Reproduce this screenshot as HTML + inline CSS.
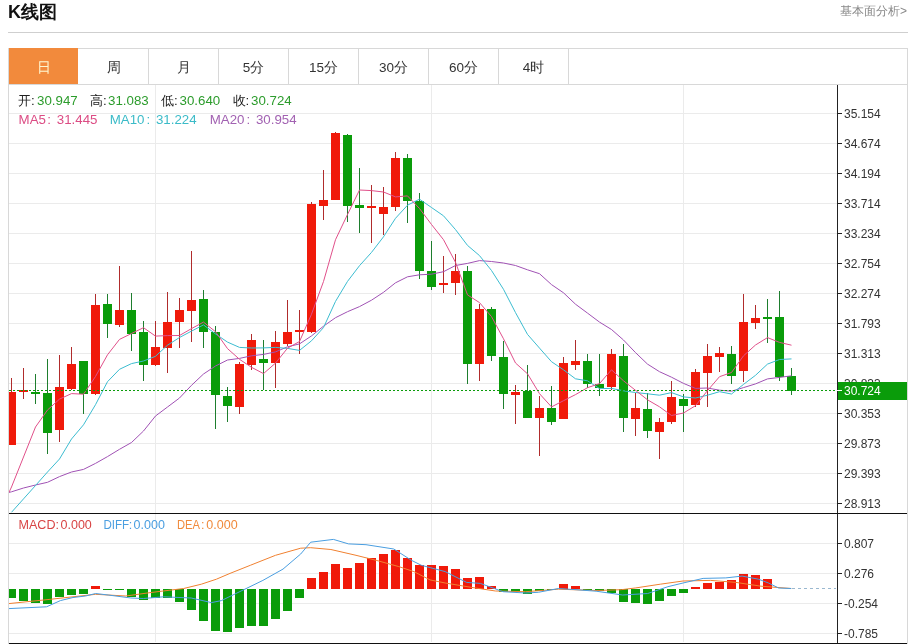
<!DOCTYPE html>
<html><head><meta charset="utf-8"><style>
html,body{margin:0;padding:0;background:#fff;width:914px;height:644px;overflow:hidden}
svg{display:block;will-change:transform;font-family:"Liberation Sans",sans-serif}
.ax{font-size:12px;fill:#333}
.tab{font-size:13.5px}
.lg{font-size:13.3px}
.lg2{font-size:12.5px}
.title{font-size:18px;font-weight:bold;fill:#111}
.link{font-size:12px;fill:#888}
</style></head><body>
<svg width="914" height="644" viewBox="0 0 914 644">
<defs><clipPath id="cp"><rect x="9" y="85" width="828" height="428"/></clipPath>
<clipPath id="cp2"><rect x="9" y="514" width="828" height="129"/></clipPath></defs>
<line x1="9" y1="113.5" x2="837" y2="113.5" stroke="#ebebeb"/>
<line x1="9" y1="143.5" x2="837" y2="143.5" stroke="#ebebeb"/>
<line x1="9" y1="173.5" x2="837" y2="173.5" stroke="#ebebeb"/>
<line x1="9" y1="203.5" x2="837" y2="203.5" stroke="#ebebeb"/>
<line x1="9" y1="233.5" x2="837" y2="233.5" stroke="#ebebeb"/>
<line x1="9" y1="263.5" x2="837" y2="263.5" stroke="#ebebeb"/>
<line x1="9" y1="293.5" x2="837" y2="293.5" stroke="#ebebeb"/>
<line x1="9" y1="323.5" x2="837" y2="323.5" stroke="#ebebeb"/>
<line x1="9" y1="353.5" x2="837" y2="353.5" stroke="#ebebeb"/>
<line x1="9" y1="383.5" x2="837" y2="383.5" stroke="#ebebeb"/>
<line x1="9" y1="413.5" x2="837" y2="413.5" stroke="#ebebeb"/>
<line x1="9" y1="443.5" x2="837" y2="443.5" stroke="#ebebeb"/>
<line x1="9" y1="473.5" x2="837" y2="473.5" stroke="#ebebeb"/>
<line x1="9" y1="503.5" x2="837" y2="503.5" stroke="#ebebeb"/>
<line x1="9" y1="543.5" x2="837" y2="543.5" stroke="#ebebeb"/>
<line x1="9" y1="573.5" x2="837" y2="573.5" stroke="#ebebeb"/>
<line x1="9" y1="603.5" x2="837" y2="603.5" stroke="#ebebeb"/>
<line x1="9" y1="633.5" x2="837" y2="633.5" stroke="#ebebeb"/>
<line x1="155.5" y1="85" x2="155.5" y2="642" stroke="#ebebeb"/>
<line x1="431.5" y1="85" x2="431.5" y2="642" stroke="#ebebeb"/>
<line x1="683.5" y1="85" x2="683.5" y2="642" stroke="#ebebeb"/>
<g clip-path="url(#cp)">
<rect x="11" y="378" width="1" height="67" fill="#b02c2c"/>
<rect x="7" y="392" width="9" height="53" fill="#f01a0a"/>
<rect x="23" y="368" width="1" height="31" fill="#b02c2c"/>
<rect x="19" y="390" width="9" height="2" fill="#f01a0a"/>
<rect x="35" y="374" width="1" height="30" fill="#1e7e2e"/>
<rect x="31" y="392" width="9" height="2" fill="#0a9c0a"/>
<rect x="47" y="359" width="1" height="95" fill="#1e7e2e"/>
<rect x="43" y="393" width="9" height="40" fill="#0a9c0a"/>
<rect x="59" y="355" width="1" height="87" fill="#b02c2c"/>
<rect x="55" y="387" width="9" height="43" fill="#f01a0a"/>
<rect x="71" y="347" width="1" height="43" fill="#b02c2c"/>
<rect x="67" y="364" width="9" height="25" fill="#f01a0a"/>
<rect x="83" y="361" width="1" height="53" fill="#1e7e2e"/>
<rect x="79" y="361" width="9" height="33" fill="#0a9c0a"/>
<rect x="95" y="294" width="1" height="101" fill="#b02c2c"/>
<rect x="91" y="305" width="9" height="89" fill="#f01a0a"/>
<rect x="107" y="294" width="1" height="44" fill="#1e7e2e"/>
<rect x="103" y="304" width="9" height="20" fill="#0a9c0a"/>
<rect x="119" y="266" width="1" height="61" fill="#b02c2c"/>
<rect x="115" y="310" width="9" height="15" fill="#f01a0a"/>
<rect x="131" y="293" width="1" height="58" fill="#1e7e2e"/>
<rect x="127" y="310" width="9" height="24" fill="#0a9c0a"/>
<rect x="143" y="321" width="1" height="60" fill="#1e7e2e"/>
<rect x="139" y="332" width="9" height="33" fill="#0a9c0a"/>
<rect x="155" y="321" width="1" height="45" fill="#b02c2c"/>
<rect x="151" y="347" width="9" height="18" fill="#f01a0a"/>
<rect x="167" y="292" width="1" height="81" fill="#b02c2c"/>
<rect x="163" y="322" width="9" height="26" fill="#f01a0a"/>
<rect x="179" y="298" width="1" height="50" fill="#b02c2c"/>
<rect x="175" y="310" width="9" height="12" fill="#f01a0a"/>
<rect x="191" y="251" width="1" height="91" fill="#b02c2c"/>
<rect x="187" y="300" width="9" height="11" fill="#f01a0a"/>
<rect x="203" y="290" width="1" height="58" fill="#1e7e2e"/>
<rect x="199" y="299" width="9" height="33" fill="#0a9c0a"/>
<rect x="215" y="326" width="1" height="103" fill="#1e7e2e"/>
<rect x="211" y="332" width="9" height="63" fill="#0a9c0a"/>
<rect x="227" y="387" width="1" height="35" fill="#1e7e2e"/>
<rect x="223" y="396" width="9" height="10" fill="#0a9c0a"/>
<rect x="239" y="362" width="1" height="52" fill="#b02c2c"/>
<rect x="235" y="364" width="9" height="43" fill="#f01a0a"/>
<rect x="251" y="334" width="1" height="36" fill="#b02c2c"/>
<rect x="247" y="340" width="9" height="25" fill="#f01a0a"/>
<rect x="263" y="340" width="1" height="50" fill="#1e7e2e"/>
<rect x="259" y="359" width="9" height="4" fill="#0a9c0a"/>
<rect x="275" y="331" width="1" height="57" fill="#b02c2c"/>
<rect x="271" y="342" width="9" height="21" fill="#f01a0a"/>
<rect x="287" y="300" width="1" height="46" fill="#b02c2c"/>
<rect x="283" y="332" width="9" height="12" fill="#f01a0a"/>
<rect x="299" y="310" width="1" height="44" fill="#b02c2c"/>
<rect x="295" y="330" width="9" height="2" fill="#f01a0a"/>
<rect x="311" y="202" width="1" height="131" fill="#b02c2c"/>
<rect x="307" y="204" width="9" height="128" fill="#f01a0a"/>
<rect x="323" y="170" width="1" height="50" fill="#b02c2c"/>
<rect x="319" y="200" width="9" height="6" fill="#f01a0a"/>
<rect x="335" y="132" width="1" height="68" fill="#b02c2c"/>
<rect x="331" y="133" width="9" height="67" fill="#f01a0a"/>
<rect x="347" y="134" width="1" height="88" fill="#1e7e2e"/>
<rect x="343" y="135" width="9" height="71" fill="#0a9c0a"/>
<rect x="359" y="168" width="1" height="65" fill="#1e7e2e"/>
<rect x="355" y="205" width="9" height="3" fill="#0a9c0a"/>
<rect x="371" y="185" width="1" height="58" fill="#b02c2c"/>
<rect x="367" y="206" width="9" height="2" fill="#f01a0a"/>
<rect x="383" y="187" width="1" height="48" fill="#b02c2c"/>
<rect x="379" y="207" width="9" height="7" fill="#f01a0a"/>
<rect x="395" y="152" width="1" height="59" fill="#b02c2c"/>
<rect x="391" y="158" width="9" height="49" fill="#f01a0a"/>
<rect x="407" y="154" width="1" height="69" fill="#1e7e2e"/>
<rect x="403" y="158" width="9" height="43" fill="#0a9c0a"/>
<rect x="419" y="193" width="1" height="86" fill="#1e7e2e"/>
<rect x="415" y="201" width="9" height="70" fill="#0a9c0a"/>
<rect x="431" y="241" width="1" height="49" fill="#1e7e2e"/>
<rect x="427" y="271" width="9" height="16" fill="#0a9c0a"/>
<rect x="443" y="256" width="1" height="37" fill="#b02c2c"/>
<rect x="439" y="283" width="9" height="2" fill="#f01a0a"/>
<rect x="455" y="254" width="1" height="41" fill="#b02c2c"/>
<rect x="451" y="271" width="9" height="12" fill="#f01a0a"/>
<rect x="467" y="266" width="1" height="118" fill="#1e7e2e"/>
<rect x="463" y="271" width="9" height="93" fill="#0a9c0a"/>
<rect x="479" y="304" width="1" height="77" fill="#b02c2c"/>
<rect x="475" y="309" width="9" height="55" fill="#f01a0a"/>
<rect x="491" y="307" width="1" height="54" fill="#1e7e2e"/>
<rect x="487" y="309" width="9" height="47" fill="#0a9c0a"/>
<rect x="503" y="341" width="1" height="68" fill="#1e7e2e"/>
<rect x="499" y="357" width="9" height="37" fill="#0a9c0a"/>
<rect x="515" y="385" width="1" height="39" fill="#b02c2c"/>
<rect x="511" y="392" width="9" height="3" fill="#f01a0a"/>
<rect x="527" y="365" width="1" height="53" fill="#1e7e2e"/>
<rect x="523" y="391" width="9" height="27" fill="#0a9c0a"/>
<rect x="539" y="396" width="1" height="60" fill="#b02c2c"/>
<rect x="535" y="408" width="9" height="10" fill="#f01a0a"/>
<rect x="551" y="386" width="1" height="39" fill="#1e7e2e"/>
<rect x="547" y="408" width="9" height="14" fill="#0a9c0a"/>
<rect x="563" y="357" width="1" height="62" fill="#b02c2c"/>
<rect x="559" y="363" width="9" height="56" fill="#f01a0a"/>
<rect x="575" y="340" width="1" height="30" fill="#b02c2c"/>
<rect x="571" y="361" width="9" height="4" fill="#f01a0a"/>
<rect x="587" y="354" width="1" height="34" fill="#1e7e2e"/>
<rect x="583" y="361" width="9" height="23" fill="#0a9c0a"/>
<rect x="599" y="354" width="1" height="42" fill="#1e7e2e"/>
<rect x="595" y="384" width="9" height="4" fill="#0a9c0a"/>
<rect x="611" y="349" width="1" height="41" fill="#b02c2c"/>
<rect x="607" y="354" width="9" height="33" fill="#f01a0a"/>
<rect x="623" y="344" width="1" height="88" fill="#1e7e2e"/>
<rect x="619" y="356" width="9" height="62" fill="#0a9c0a"/>
<rect x="635" y="393" width="1" height="43" fill="#b02c2c"/>
<rect x="631" y="408" width="9" height="11" fill="#f01a0a"/>
<rect x="647" y="393" width="1" height="45" fill="#1e7e2e"/>
<rect x="643" y="409" width="9" height="22" fill="#0a9c0a"/>
<rect x="659" y="418" width="1" height="41" fill="#b02c2c"/>
<rect x="655" y="422" width="9" height="10" fill="#f01a0a"/>
<rect x="671" y="381" width="1" height="43" fill="#b02c2c"/>
<rect x="667" y="397" width="9" height="25" fill="#f01a0a"/>
<rect x="683" y="394" width="1" height="38" fill="#1e7e2e"/>
<rect x="679" y="399" width="9" height="7" fill="#0a9c0a"/>
<rect x="695" y="369" width="1" height="38" fill="#b02c2c"/>
<rect x="691" y="372" width="9" height="33" fill="#f01a0a"/>
<rect x="707" y="344" width="1" height="63" fill="#b02c2c"/>
<rect x="703" y="356" width="9" height="17" fill="#f01a0a"/>
<rect x="719" y="347" width="1" height="25" fill="#b02c2c"/>
<rect x="715" y="353" width="9" height="4" fill="#f01a0a"/>
<rect x="731" y="346" width="1" height="38" fill="#1e7e2e"/>
<rect x="727" y="354" width="9" height="22" fill="#0a9c0a"/>
<rect x="743" y="294" width="1" height="88" fill="#b02c2c"/>
<rect x="739" y="322" width="9" height="49" fill="#f01a0a"/>
<rect x="755" y="305" width="1" height="24" fill="#b02c2c"/>
<rect x="751" y="318" width="9" height="5" fill="#f01a0a"/>
<rect x="767" y="299" width="1" height="44" fill="#1e7e2e"/>
<rect x="763" y="317" width="9" height="2" fill="#0a9c0a"/>
<rect x="779" y="291" width="1" height="90" fill="#1e7e2e"/>
<rect x="775" y="317" width="9" height="60" fill="#0a9c0a"/>
<rect x="791" y="368" width="1" height="27" fill="#1e7e2e"/>
<rect x="787" y="376" width="9" height="15" fill="#0a9c0a"/>
<polyline points="9,492.4 11.5,491.8 23.5,488.0 35.5,485.0 47.5,482.3 59.5,476.6 71.5,472.0 83.5,469.4 95.5,463.4 107.5,456.6 119.5,449.3 131.5,442.5 143.5,431.0 155.5,416.0 167.5,407.0 179.5,398.0 191.5,385.3 203.5,374.0 215.5,366.0 227.5,360.0 239.5,358.4 251.5,355.8 263.5,354.4 275.5,351.9 287.5,346.8 299.5,343.9 311.5,335.9 323.5,326.2 335.5,317.7 347.5,311.7 359.5,306.6 371.5,300.2 383.5,292.3 395.5,282.8 407.5,276.8 419.5,274.8 431.5,274.2 443.5,271.7 455.5,265.5 467.5,263.4 479.5,260.6 491.5,261.5 503.5,263.0 515.5,265.5 527.5,269.8 539.5,273.7 551.5,284.6 563.5,292.8 575.5,304.2 587.5,313.1 599.5,322.1 611.5,329.5 623.5,340.0 635.5,352.6 647.5,364.1 659.5,371.7 671.5,377.2 683.5,383.4 695.5,388.4 707.5,388.0 719.5,390.2 731.5,391.2 743.5,387.6 755.5,383.9 767.5,378.9 779.5,377.4 791.5,375.8" fill="none" stroke="#a052b4" stroke-width="1"/>
<polyline points="11.5,512.3 23.5,498.9 35.5,485.5 47.5,472.0 59.5,459.0 71.5,439.0 83.5,424.8 95.5,404.7 107.5,381.7 119.5,369.3 131.5,363.6 143.5,361.0 155.5,356.3 167.5,345.2 179.5,337.5 191.5,331.1 203.5,324.9 215.5,333.9 227.5,342.1 239.5,347.4 251.5,348.0 263.5,347.9 275.5,347.4 287.5,348.4 299.5,350.4 311.5,340.8 323.5,327.6 335.5,301.4 347.5,281.4 359.5,265.7 371.5,252.4 383.5,236.8 395.5,218.3 407.5,205.2 419.5,199.2 431.5,207.5 443.5,215.8 455.5,229.6 467.5,245.4 479.5,255.6 491.5,270.5 503.5,289.3 515.5,312.6 527.5,334.4 539.5,348.1 551.5,361.7 563.5,369.8 575.5,378.8 587.5,380.8 599.5,388.6 611.5,388.4 623.5,390.8 635.5,392.5 647.5,393.8 659.5,395.2 671.5,392.6 683.5,396.9 695.5,398.0 707.5,395.2 719.5,391.7 731.5,394.0 743.5,384.4 755.5,375.3 767.5,364.1 779.5,359.5 791.5,358.9" fill="none" stroke="#3cbcd0" stroke-width="1"/>
<polyline points="9,492.4 11.5,487.0 23.5,457.0 35.5,427.0 47.5,410.0 59.5,399.1 71.5,393.6 83.5,394.2 95.5,376.5 107.5,354.8 119.5,339.4 131.5,333.5 143.5,327.7 155.5,336.1 167.5,335.6 179.5,335.5 191.5,328.6 203.5,322.1 215.5,331.7 227.5,348.6 239.5,359.3 251.5,367.3 263.5,373.6 275.5,363.1 287.5,348.2 299.5,341.5 311.5,314.2 323.5,281.5 335.5,239.7 347.5,214.5 359.5,190.0 371.5,190.6 383.5,192.0 395.5,196.9 407.5,195.9 419.5,208.5 431.5,224.5 443.5,239.7 455.5,262.3 467.5,294.9 479.5,302.6 491.5,316.6 503.5,338.8 515.5,363.0 527.5,373.8 539.5,393.7 551.5,406.9 563.5,400.7 575.5,394.6 587.5,387.7 599.5,383.6 611.5,369.8 623.5,380.8 635.5,390.3 647.5,399.8 659.5,406.8 671.5,415.5 683.5,413.0 695.5,405.7 707.5,390.6 719.5,376.7 731.5,372.5 743.5,355.8 755.5,345.0 767.5,337.6 779.5,342.4 791.5,345.2" fill="none" stroke="#e0508a" stroke-width="1"/>
</g>
<line x1="9" y1="390.5" x2="837" y2="390.5" stroke="#0a9c0a" stroke-dasharray="2,2"/>
<g clip-path="url(#cp2)">
<rect x="7" y="589" width="9" height="9" fill="#0a9c0a"/>
<rect x="19" y="589" width="9" height="12" fill="#0a9c0a"/>
<rect x="31" y="589" width="9" height="14" fill="#0a9c0a"/>
<rect x="43" y="589" width="9" height="15" fill="#0a9c0a"/>
<rect x="55" y="589" width="9" height="8" fill="#0a9c0a"/>
<rect x="67" y="589" width="9" height="6" fill="#0a9c0a"/>
<rect x="79" y="589" width="9" height="5" fill="#0a9c0a"/>
<rect x="91" y="586" width="9" height="3" fill="#f01a0a"/>
<rect x="103" y="589" width="9" height="1" fill="#0a9c0a"/>
<rect x="115" y="589" width="9" height="1" fill="#0a9c0a"/>
<rect x="127" y="589" width="9" height="8" fill="#0a9c0a"/>
<rect x="139" y="589" width="9" height="11" fill="#0a9c0a"/>
<rect x="151" y="589" width="9" height="9" fill="#0a9c0a"/>
<rect x="163" y="589" width="9" height="9" fill="#0a9c0a"/>
<rect x="175" y="589" width="9" height="13" fill="#0a9c0a"/>
<rect x="187" y="589" width="9" height="21" fill="#0a9c0a"/>
<rect x="199" y="589" width="9" height="32" fill="#0a9c0a"/>
<rect x="211" y="589" width="9" height="42" fill="#0a9c0a"/>
<rect x="223" y="589" width="9" height="43" fill="#0a9c0a"/>
<rect x="235" y="589" width="9" height="39" fill="#0a9c0a"/>
<rect x="247" y="589" width="9" height="37" fill="#0a9c0a"/>
<rect x="259" y="589" width="9" height="37" fill="#0a9c0a"/>
<rect x="271" y="589" width="9" height="30" fill="#0a9c0a"/>
<rect x="283" y="589" width="9" height="22" fill="#0a9c0a"/>
<rect x="295" y="589" width="9" height="9" fill="#0a9c0a"/>
<rect x="307" y="578" width="9" height="11" fill="#f01a0a"/>
<rect x="319" y="572" width="9" height="17" fill="#f01a0a"/>
<rect x="331" y="564" width="9" height="25" fill="#f01a0a"/>
<rect x="343" y="568" width="9" height="21" fill="#f01a0a"/>
<rect x="355" y="563" width="9" height="26" fill="#f01a0a"/>
<rect x="367" y="558" width="9" height="31" fill="#f01a0a"/>
<rect x="379" y="554" width="9" height="35" fill="#f01a0a"/>
<rect x="391" y="550" width="9" height="39" fill="#f01a0a"/>
<rect x="403" y="558" width="9" height="31" fill="#f01a0a"/>
<rect x="415" y="565" width="9" height="24" fill="#f01a0a"/>
<rect x="427" y="565" width="9" height="24" fill="#f01a0a"/>
<rect x="439" y="566" width="9" height="23" fill="#f01a0a"/>
<rect x="451" y="569" width="9" height="20" fill="#f01a0a"/>
<rect x="463" y="578" width="9" height="11" fill="#f01a0a"/>
<rect x="475" y="577" width="9" height="12" fill="#f01a0a"/>
<rect x="487" y="586" width="9" height="3" fill="#f01a0a"/>
<rect x="499" y="589" width="9" height="3" fill="#0a9c0a"/>
<rect x="511" y="589" width="9" height="3" fill="#0a9c0a"/>
<rect x="523" y="589" width="9" height="5" fill="#0a9c0a"/>
<rect x="535" y="589" width="9" height="2" fill="#0a9c0a"/>
<rect x="547" y="589" width="9" height="1" fill="#0a9c0a"/>
<rect x="559" y="584" width="9" height="5" fill="#f01a0a"/>
<rect x="571" y="586" width="9" height="3" fill="#f01a0a"/>
<rect x="583" y="589" width="9" height="1" fill="#0a9c0a"/>
<rect x="595" y="589" width="9" height="2" fill="#0a9c0a"/>
<rect x="607" y="589" width="9" height="4" fill="#0a9c0a"/>
<rect x="619" y="589" width="9" height="13" fill="#0a9c0a"/>
<rect x="631" y="589" width="9" height="14" fill="#0a9c0a"/>
<rect x="643" y="589" width="9" height="15" fill="#0a9c0a"/>
<rect x="655" y="589" width="9" height="12" fill="#0a9c0a"/>
<rect x="667" y="589" width="9" height="7" fill="#0a9c0a"/>
<rect x="679" y="589" width="9" height="4" fill="#0a9c0a"/>
<rect x="691" y="587" width="9" height="2" fill="#f01a0a"/>
<rect x="703" y="583" width="9" height="6" fill="#f01a0a"/>
<rect x="715" y="582" width="9" height="7" fill="#f01a0a"/>
<rect x="727" y="580" width="9" height="9" fill="#f01a0a"/>
<rect x="739" y="574" width="9" height="15" fill="#f01a0a"/>
<rect x="751" y="575" width="9" height="14" fill="#f01a0a"/>
<rect x="763" y="579" width="9" height="10" fill="#f01a0a"/>
<polyline points="8.8,603.6 50.3,599.3 95.6,594.3 125.8,596.0 151.0,592.5 183.7,588.5 201.3,584.2 216.4,579.2 230.0,573.4 250.3,565.3 275.5,555.3 300.7,548.2 310.7,547.7 330.9,549.5 356.0,555.3 376.1,560.3 398.8,566.6 413.9,571.6 430.0,579.9 445.2,583.0 470.3,587.2 495.5,591.0 525.7,591.7 558.4,589.2 596.1,590.5 621.3,589.7 635.2,588.0 660.3,584.2 683.0,581.0 710.6,580.4 735.8,582.4 761.0,586.2 791.2,588.5" fill="none" stroke="#f08030" stroke-width="1"/>
<polyline points="8.8,608.6 46.6,606.8 60.4,600.6 73.0,597.5 85.6,596.0 95.6,593.5 108.2,595.0 130.9,598.0 143.4,598.5 163.6,596.8 191.2,598.0 211.4,602.6 221.4,600.6 262.9,580.4 283.0,569.1 300.7,554.0 310.7,542.2 333.4,539.4 348.5,543.9 366.0,544.7 393.8,549.0 411.4,560.3 421.4,565.3 445.2,571.6 466.6,582.4 480.4,583.4 503.0,591.7 525.7,593.0 538.3,592.3 558.4,588.5 576.0,589.7 596.1,591.2 622.6,595.0 647.7,593.5 667.9,586.7 683.0,583.0 703.1,578.4 725.8,577.9 742.1,576.1 758.5,579.2 768.5,583.0 778.6,588.0 791.2,588.5" fill="none" stroke="#4a9ee0" stroke-width="1"/>
</g>
<line x1="792" y1="588.5" x2="836" y2="588.5" stroke="#9ab8d0" stroke-dasharray="3,3"/>
<line x1="837.5" y1="84" x2="837.5" y2="644" stroke="#222"/>
<line x1="9" y1="513.5" x2="908" y2="513.5" stroke="#111"/>
<line x1="9" y1="643.5" x2="908" y2="643.5" stroke="#111"/>
<line x1="837" y1="113.5" x2="842" y2="113.5" stroke="#222"/>
<text x="844" y="118.0" class="ax">35.154</text>
<line x1="837" y1="143.5" x2="842" y2="143.5" stroke="#222"/>
<text x="844" y="148.0" class="ax">34.674</text>
<line x1="837" y1="173.5" x2="842" y2="173.5" stroke="#222"/>
<text x="844" y="178.0" class="ax">34.194</text>
<line x1="837" y1="203.5" x2="842" y2="203.5" stroke="#222"/>
<text x="844" y="208.0" class="ax">33.714</text>
<line x1="837" y1="233.5" x2="842" y2="233.5" stroke="#222"/>
<text x="844" y="238.0" class="ax">33.234</text>
<line x1="837" y1="263.5" x2="842" y2="263.5" stroke="#222"/>
<text x="844" y="268.0" class="ax">32.754</text>
<line x1="837" y1="293.5" x2="842" y2="293.5" stroke="#222"/>
<text x="844" y="298.0" class="ax">32.274</text>
<line x1="837" y1="323.5" x2="842" y2="323.5" stroke="#222"/>
<text x="844" y="328.0" class="ax">31.793</text>
<line x1="837" y1="353.5" x2="842" y2="353.5" stroke="#222"/>
<text x="844" y="358.0" class="ax">31.313</text>
<line x1="837" y1="383.5" x2="842" y2="383.5" stroke="#222"/>
<text x="844" y="388.0" class="ax">30.833</text>
<line x1="837" y1="413.5" x2="842" y2="413.5" stroke="#222"/>
<text x="844" y="418.0" class="ax">30.353</text>
<line x1="837" y1="443.5" x2="842" y2="443.5" stroke="#222"/>
<text x="844" y="448.0" class="ax">29.873</text>
<line x1="837" y1="473.5" x2="842" y2="473.5" stroke="#222"/>
<text x="844" y="478.0" class="ax">29.393</text>
<line x1="837" y1="503.5" x2="842" y2="503.5" stroke="#222"/>
<text x="844" y="508.0" class="ax">28.913</text>
<line x1="837" y1="543.5" x2="842" y2="543.5" stroke="#222"/>
<text x="844" y="548.0" class="ax">0.807</text>
<line x1="837" y1="573.5" x2="842" y2="573.5" stroke="#222"/>
<text x="844" y="578.0" class="ax">0.276</text>
<line x1="837" y1="603.5" x2="842" y2="603.5" stroke="#222"/>
<text x="844" y="608.0" class="ax">-0.254</text>
<line x1="837" y1="633.5" x2="842" y2="633.5" stroke="#222"/>
<text x="844" y="638.0" class="ax">-0.785</text>
<rect x="838" y="382" width="69" height="18" fill="#0a9c0a"/>
<line x1="837" y1="390.5" x2="842" y2="390.5" stroke="#fff"/>
<text x="844" y="395" class="ax" fill="#fff" style="fill:#fff">30.724</text>
<line x1="8.5" y1="48" x2="8.5" y2="644" stroke="#d8d8d8"/>
<line x1="907.5" y1="48" x2="907.5" y2="644" stroke="#d8d8d8"/>
<line x1="8" y1="48.5" x2="908" y2="48.5" stroke="#d8d8d8"/>
<line x1="8" y1="84.5" x2="908" y2="84.5" stroke="#d8d8d8"/>
<line x1="148.5" y1="48" x2="148.5" y2="84" stroke="#d8d8d8"/>
<line x1="218.5" y1="48" x2="218.5" y2="84" stroke="#d8d8d8"/>
<line x1="288.5" y1="48" x2="288.5" y2="84" stroke="#d8d8d8"/>
<line x1="358.5" y1="48" x2="358.5" y2="84" stroke="#d8d8d8"/>
<line x1="428.5" y1="48" x2="428.5" y2="84" stroke="#d8d8d8"/>
<line x1="498.5" y1="48" x2="498.5" y2="84" stroke="#d8d8d8"/>
<line x1="568.5" y1="48" x2="568.5" y2="84" stroke="#d8d8d8"/>
<rect x="9" y="48" width="69" height="36" fill="#f28a3c"/>
<text x="43.5" y="71.5" class="tab" text-anchor="middle" style="fill:#fff6d0">日</text>
<text x="113.5" y="71.5" class="tab" text-anchor="middle" style="fill:#333">周</text>
<text x="183.5" y="71.5" class="tab" text-anchor="middle" style="fill:#333">月</text>
<text x="253.5" y="71.5" class="tab" text-anchor="middle" style="fill:#333">5分</text>
<text x="323.5" y="71.5" class="tab" text-anchor="middle" style="fill:#333">15分</text>
<text x="393.5" y="71.5" class="tab" text-anchor="middle" style="fill:#333">30分</text>
<text x="463.5" y="71.5" class="tab" text-anchor="middle" style="fill:#333">60分</text>
<text x="533.5" y="71.5" class="tab" text-anchor="middle" style="fill:#333">4时</text>
<text y="105" class="lg"><tspan x="18" style="fill:#222">开:</tspan><tspan x="37" style="fill:#2c9c2c">30.947</tspan><tspan x="90" style="fill:#222">高:</tspan><tspan x="108" style="fill:#2c9c2c">31.083</tspan><tspan x="161" style="fill:#222">低:</tspan><tspan x="179.5" style="fill:#2c9c2c">30.640</tspan><tspan x="232.5" style="fill:#222">收:</tspan><tspan x="251" style="fill:#2c9c2c">30.724</tspan></text>
<text y="123.8" class="lg"><tspan x="18.6" style="fill:#dc4c84">MA5</tspan><tspan x="47.3" style="fill:#dc4c84">:</tspan><tspan x="56.8" style="fill:#dc4c84">31.445</tspan><tspan x="109.7" style="fill:#3bbbc8">MA10</tspan><tspan x="146.5" style="fill:#3bbbc8">:</tspan><tspan x="155.9" style="fill:#3bbbc8">31.224</tspan><tspan x="209.7" style="fill:#a262b2">MA20</tspan><tspan x="246.5" style="fill:#a262b2">:</tspan><tspan x="255.9" style="fill:#a262b2">30.954</tspan></text>
<text y="528.8" class="lg2"><tspan x="18.5" textLength="37" lengthAdjust="spacingAndGlyphs" style="fill:#d84444">MACD</tspan><tspan x="55.6" style="fill:#d84444">:</tspan><tspan x="60.5" style="fill:#d84444">0.000</tspan><tspan x="103.4" textLength="25.8" lengthAdjust="spacingAndGlyphs" style="fill:#4a9ee0">DIFF</tspan><tspan x="128.8" style="fill:#4a9ee0">:</tspan><tspan x="133.6" style="fill:#4a9ee0">0.000</tspan><tspan x="176.9" textLength="23" lengthAdjust="spacingAndGlyphs" style="fill:#f08a3c">DEA</tspan><tspan x="201" style="fill:#f08a3c">:</tspan><tspan x="206.3" style="fill:#f08a3c">0.000</tspan></text>
<text x="8" y="18" class="title">K线图</text>
<text x="907" y="15" class="link" text-anchor="end">基本面分析&gt;</text>
<line x1="8" y1="32.5" x2="908" y2="32.5" stroke="#cfcfcf"/>
</svg></body></html>
